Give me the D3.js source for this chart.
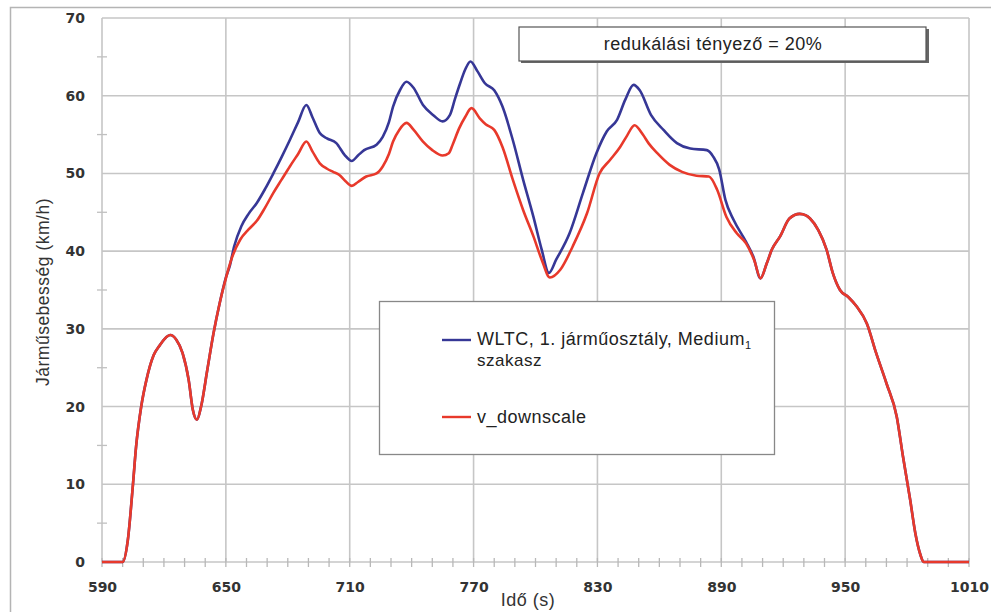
<!DOCTYPE html>
<html>
<head>
<meta charset="utf-8">
<script src="https://cdn.jsdelivr.net/npm/d3@7"></script>
<style>
  html, body { margin: 0; padding: 0; background: #fff; }
  svg { display: block; }
</style>
</head>
<body>
<div id="chart"></div>
<script>
// ---- Data ----
const xTicks = [590, 650, 710, 770, 830, 890, 950, 1010];
const yTicks = [0, 10, 20, 30, 40, 50, 60, 70];
const yMinorTicks = [5, 15, 25, 35, 45, 55, 65];

const timeWLTC = [590, 600, 602.5, 605, 606.5, 609, 611.5, 615, 618, 621, 623, 626, 629, 632, 634, 636, 638, 641, 644, 647, 650,
  652, 654, 657.5, 661, 665, 669, 673, 677, 681, 685, 689, 692, 695.5, 699, 703.5, 707.5, 711, 714, 717, 723, 726, 729, 731,
  734.5, 737.5, 741, 745.5, 750.5, 755, 758.5, 761, 763.5, 766, 768.5, 772, 775.5, 780, 784, 789, 794, 799, 803, 806.5, 810,
  816.5, 823, 829.5, 834.5, 839.5, 843.5, 847.5, 850.5, 856, 862, 868.5, 875, 883, 886, 889, 892, 896, 902, 905.5, 909,
  912, 914.5, 918.5, 923, 928, 931, 933, 937, 941, 944, 947.5, 951.5, 955.5, 960.5, 965, 970, 975, 978, 981.5, 984, 986.5, 988, 1010];
const speedWLTC = [0, 0, 2.8, 10, 14.8, 20, 23.4, 26.6, 27.9, 28.9, 29.2, 28.6, 26.9, 23.4, 19.6, 18.3, 20, 24.7, 29.4, 33.3, 36.6,
  38.2, 40.6, 43.2, 44.8, 46.2, 48, 50, 52.1, 54.3, 56.6, 58.8, 57.2, 55.2, 54.5, 53.9, 52.4, 51.6, 52.3, 53, 53.7, 54.7, 56.6, 58.6,
  60.8, 61.8, 61, 58.8, 57.5, 56.7, 57.5, 59.6, 61.6, 63.4, 64.4, 63.1, 61.6, 60.7, 58.6, 54.3, 49.2, 44.4, 40.2, 37.2, 38.9,
  42.3, 47.5, 52.6, 55.4, 56.9, 59.5, 61.4, 60.7, 57.5, 55.6, 53.9, 53.2, 53, 52.2, 50.5, 46.6, 44, 41.2, 39.3, 36.5,
  38.4, 40.2, 41.9, 44.2, 44.8, 44.6, 44.2, 42.7, 40.2, 37.2, 35, 34.1, 32.9, 30.7, 26.9, 23, 18.7, 13.6, 8, 3.7, 0.9, 0, 0];

const timeDown = [590, 600, 602.5, 605, 606.5, 609, 611.5, 615, 618, 621, 623, 626, 629, 632, 634, 636, 638, 641, 644, 647, 650,
  653, 657, 661, 665, 669, 673, 677, 681, 685, 689, 692, 695.5, 699, 702, 705, 708, 711, 714, 718, 723, 726, 729, 731, 734,
  737.5, 741, 745.5, 750, 755, 758, 760, 763, 766, 769, 773, 776, 780, 784, 789, 794, 799, 803, 807, 812, 818, 825, 831, 836,
  841, 844, 848, 852, 855, 859, 865, 871, 878, 884, 888, 892.5, 897.5, 902, 906, 909, 912, 914.5, 918.5, 923, 928, 931, 933,
  937, 941, 944, 947.5, 951.5, 955.5, 960.5, 965, 970, 975, 978, 981.5, 984, 986.5, 988, 1010];
const speedDown = [0, 0, 2.8, 10, 14.8, 20, 23.4, 26.6, 27.9, 28.9, 29.2, 28.6, 26.9, 23.4, 19.6, 18.3, 20, 24.7, 29.4, 33.3, 36.5,
  39.2, 41.5, 42.8, 43.9, 45.6, 47.5, 49.2, 50.9, 52.5, 54.1, 52.8, 51.3, 50.6, 50.2, 49.8, 49, 48.4, 48.9, 49.6, 50, 50.9, 52.5, 54.1, 55.6,
  56.5, 55.6, 54.1, 53, 52.3, 52.6, 53.8, 55.8, 57.3, 58.4, 57.1, 56.3, 55.6, 53.4, 49.2, 45.3, 41.9, 38.9, 36.6, 37.6, 40.6, 44.9, 50, 51.7,
  53.4, 54.7, 56.2, 55, 53.8, 52.6, 51.1, 50.2, 49.7, 49.6, 47.9, 44.4, 42.3, 41, 38.8, 36.5, 38.4, 40.2, 41.9, 44.2, 44.8, 44.6, 44.2,
  42.7, 40.2, 37.2, 35, 34.1, 32.9, 30.7, 26.9, 23, 18.7, 13.6, 8, 3.7, 0.9, 0, 0];

const seriesNames = ["WLTC, 1. járműosztály, Medium", "v_downscale"];
const seriesColors = ["#363796", "#e8392b"];
const titleText = "redukálási tényező = 20%";
const xTitle = "Idő (s)";
const yTitle = "Járműsebesség (km/h)";

// ---- Drawing ----
const W = 991, H = 612;
const svg = d3.select("#chart").append("svg").attr("width", W).attr("height", H);
svg.append("rect").attr("width", W).attr("height", H).attr("fill", "#fff");

// outer frame
svg.append("rect").attr("x", 10.5).attr("y", 7.5).attr("width", 995).attr("height", 620)
  .attr("fill", "none").attr("stroke", "#b4b4b4").attr("stroke-width", 1.5);

const x = d3.scaleLinear().domain([590, 1010]).range([102, 969]);
const y = d3.scaleLinear().domain([0, 70]).range([562, 18]);

const gridColor = "#c6c6c6";
const grid = svg.append("g");
grid.selectAll("line.h").data(yTicks).join("line")
  .attr("x1", x(590)).attr("x2", x(1010)).attr("y1", d => y(d)).attr("y2", d => y(d))
  .attr("stroke", gridColor).attr("stroke-width", 1.6);
grid.selectAll("line.v").data(xTicks).join("line")
  .attr("y1", y(0)).attr("y2", y(70)).attr("x1", d => x(d)).attr("x2", d => x(d))
  .attr("stroke", gridColor).attr("stroke-width", 1.6);

// minor ticks
const xMinor = d3.range(590, 1011, 10);
grid.selectAll("line.xm").data(xMinor).join("line")
  .attr("x1", d => x(d)).attr("x2", d => x(d)).attr("y1", y(0) - 4).attr("y2", y(0) + 5)
  .attr("stroke", "#b8b8b8").attr("stroke-width", 1.3);
grid.selectAll("line.ym").data(yMinorTicks).join("line")
  .attr("x1", x(590) - 5).attr("x2", x(590) + 5).attr("y1", d => y(d)).attr("y2", d => y(d))
  .attr("stroke", "#c0c0c0").attr("stroke-width", 1.3);

// axes labels
const tickFont = "'DejaVu Sans', Verdana, sans-serif";
const yAxis = svg.append("g").attr("transform", `translate(${x(590)},0)`)
  .call(d3.axisLeft(y).tickValues(yTicks).tickSize(0).tickPadding(17).tickFormat(d3.format("d")));
yAxis.select(".domain").remove();
yAxis.selectAll("text").attr("font-family", tickFont).attr("font-weight", "bold")
  .attr("font-size", 14).attr("fill", "#333");

const xAxis = svg.append("g").attr("transform", `translate(0,${y(0)})`)
  .call(d3.axisBottom(x).tickValues(xTicks).tickSize(0).tickPadding(20).tickFormat(d3.format("d")));
xAxis.select(".domain").remove();
xAxis.selectAll("text").attr("font-family", tickFont).attr("font-weight", "bold")
  .attr("font-size", 14).attr("fill", "#333");

// axis titles
const textFont = "'Liberation Sans', Arial, Helvetica, sans-serif";
svg.append("text").attr("x", 528).attr("y", 606).attr("text-anchor", "middle")
  .attr("font-family", textFont).attr("font-size", 18).attr("letter-spacing", 0.5)
  .attr("fill", "#333").text(xTitle);
svg.append("text").attr("transform", "translate(49,292) rotate(-90)").attr("text-anchor", "middle")
  .attr("font-family", textFont).attr("font-size", 17.5).attr("letter-spacing", 0.5)
  .attr("fill", "#333").text(yTitle);

// lines
const line = d3.line().x(d => x(d[0])).y(d => y(d[1])).curve(d3.curveMonotoneX);
const wltc = timeWLTC.map((t, i) => [t, speedWLTC[i]]);
const down = timeDown.map((t, i) => [t, speedDown[i]]);
svg.append("path").datum(wltc).attr("d", line).attr("fill", "none")
  .attr("stroke", seriesColors[0]).attr("stroke-width", 2.6).attr("stroke-linejoin", "round");
svg.append("path").datum(down).attr("d", line).attr("fill", "none")
  .attr("stroke", seriesColors[1]).attr("stroke-width", 2.6).attr("stroke-linejoin", "round");

// title box with shadow
svg.append("rect").attr("x", 521).attr("y", 29).attr("width", 408).attr("height", 34).attr("fill", "#666");
svg.append("rect").attr("x", 519).attr("y", 27).attr("width", 407).attr("height", 34)
  .attr("fill", "#fff").attr("stroke", "#555").attr("stroke-width", 1.2);
svg.append("text").attr("x", 713).attr("y", 50).attr("text-anchor", "middle")
  .attr("font-family", textFont).attr("font-size", 18).attr("letter-spacing", 0.5)
  .attr("fill", "#222").text(titleText);

// legend
const lg = svg.append("g");
lg.append("rect").attr("x", 379.5).attr("y", 301.5).attr("width", 395).attr("height", 153)
  .attr("fill", "#fff").attr("stroke", "#888").attr("stroke-width", 1.3);
lg.append("line").attr("x1", 442).attr("x2", 471).attr("y1", 340).attr("y2", 340)
  .attr("stroke", seriesColors[0]).attr("stroke-width", 2.4);
lg.append("line").attr("x1", 442).attr("x2", 471).attr("y1", 417).attr("y2", 417)
  .attr("stroke", seriesColors[1]).attr("stroke-width", 2.4);
const t1 = lg.append("text").attr("x", 477).attr("y", 345)
  .attr("font-family", textFont).attr("font-size", 18).attr("letter-spacing", 0.5).attr("fill", "#222");
t1.append("tspan").text(seriesNames[0]);
t1.append("tspan").attr("font-size", 11).attr("dy", 4).text("1");
lg.append("text").attr("x", 477).attr("y", 366)
  .attr("font-family", textFont).attr("font-size", 17).attr("letter-spacing", 0.5).attr("fill", "#222").text("szakasz");
lg.append("text").attr("x", 477).attr("y", 423)
  .attr("font-family", textFont).attr("font-size", 18).attr("letter-spacing", 0.5).attr("fill", "#222").text(seriesNames[1]);
</script>
</body>
</html>
